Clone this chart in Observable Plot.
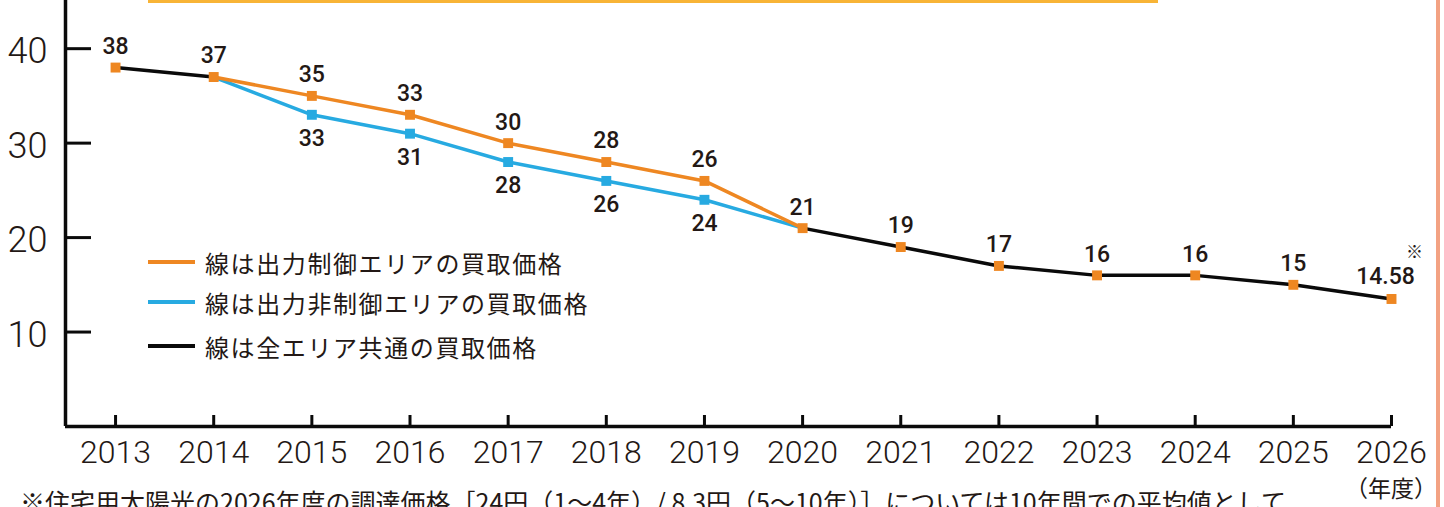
<!DOCTYPE html>
<html>
<head>
<meta charset="utf-8">
<script src="https://cdn.jsdelivr.net/npm/d3@7"></script>
<script src="https://cdn.jsdelivr.net/npm/@observablehq/plot@0.6"></script>
<style>
  html, body { margin: 0; padding: 0; background: #fff; overflow: hidden; }
  #wrap { position: relative; width: 1444px; height: 507px; overflow: hidden; background: #fff; }
  #chart { position: absolute; left: 0; top: 0; }
  .legend { position: absolute; left: 148px; font-family: "Noto Sans CJK JP", sans-serif; font-size: 24px; letter-spacing: 1.6px; color: #231815; }
  .legend .row { position: absolute; left: 0; height: 30px; display: flex; align-items: center; white-space: nowrap; }
  .legend .sw { width: 47px; height: 4px; margin-right: 10px; }
  #footnote { position: absolute; left: 20px; top: 489px; font-family: "Noto Sans CJK JP", sans-serif; font-size: 25px; line-height: 1; white-space: nowrap; color: #231815; }
  #unit { position: absolute; left: 1391px; top: 476px; transform: translateX(-50%); font-family: "Noto Sans CJK JP", sans-serif; font-size: 23px; line-height: 1; white-space: nowrap; color: #231815; }
  #topline { position: absolute; left: 148px; top: 0; width: 1010px; height: 3px; background: #F8B436; }
  #rightline { position: absolute; left: 1436px; top: 0; width: 4px; height: 507px; background: #F3A283; }
</style>
</head>
<body>
<div id="wrap">
  <div id="chart"></div>
  <div id="topline"></div>
  <div id="rightline"></div>
  <div class="legend" id="legend"></div>
  <div id="unit">（年度）</div>
  <div id="footnote">※住宅用太陽光の2026年度の調達価格［24円（1～4年）/ 8.3円（5～10年）］については10年間での平均値として</div>
</div>
<script>
// ---- data ----
const years = [2013, 2014, 2015, 2016, 2017, 2018, 2019, 2020, 2021, 2022, 2023, 2024, 2025, 2026];
const yTicks = [10, 20, 30, 40];

const ctrlYears = [2014, 2015, 2016, 2017, 2018, 2019, 2020];
const ctrlPrices = [37, 35, 33, 30, 28, 26, 21];

const nonCtrlYears = [2014, 2015, 2016, 2017, 2018, 2019, 2020];
const nonCtrlPrices = [37, 33, 31, 28, 26, 24, 21];

const commonYears = [2013, 2014, 2020, 2021, 2022, 2023, 2024, 2025, 2026];
const commonPrices = [38, 37, 21, 19, 17, 16, 16, 15, 13.5];
const commonLabels = ["38", "37", "21", "19", "17", "16", "16", "15", "14.58"];

const legendLabels = ["線は出力制御エリアの買取価格", "線は出力非制御エリアの買取価格", "線は全エリア共通の買取価格"];
const noteMark = "※";

// ---- styles ----
const ORANGE = "#EE8722";
const BLUE = "#27AAE1";
const BLACK = "#0a0a0a";
const TEXT = "#231815";

const ctrl = ctrlYears.map((y, i) => ({year: y, price: ctrlPrices[i], label: String(ctrlPrices[i])}));
const nonCtrl = nonCtrlYears.map((y, i) => ({year: y, price: nonCtrlPrices[i], label: String(nonCtrlPrices[i])}));
const common = commonYears.map((y, i) => ({year: y, price: commonPrices[i], label: commonLabels[i], seg: y <= 2014 ? "a" : "b"}));

const xDomain = [2012.49, 2026];
const yDomain = [0, 45.1];

const ctrlOnly = ctrl.filter(d => !commonYears.includes(d.year));
const nonCtrlOnly = nonCtrl.filter(d => !commonYears.includes(d.year));
const allOrange = [...common, ...ctrlOnly];

const chart = Plot.plot({
  width: 1444,
  height: 507,
  marginLeft: 65,
  marginRight: 53,
  marginTop: 0,
  marginBottom: 81,
  x: {domain: xDomain},
  y: {domain: yDomain},
  style: {fontFamily: "Roboto, 'Noto Sans CJK JP', sans-serif", color: TEXT, background: "transparent", overflow: "visible"},
  marks: [
    // axis lines
    Plot.ruleX([xDomain[0]], {stroke: BLACK, strokeWidth: 3.5}),
    Plot.ruleY([0], {stroke: BLACK, strokeWidth: 3.5}),
    // y ticks (inward) and labels
    Plot.axisY(yTicks, {tickSize: -26, tickFormat: () => "", stroke: BLACK, strokeWidth: 3, label: null}),
    Plot.axisY(yTicks, {tickSize: 0, tickPadding: 18, fontSize: 36, fontWeight: 300, dy: 3, fill: TEXT, label: null}),
    // x ticks (inward) and labels
    Plot.axisX(years, {tickSize: -11, tickFormat: () => "", stroke: BLACK, strokeWidth: 3, label: null}),
    Plot.axisX(years, {tickSize: 0, tickPadding: 14, tickFormat: d => String(d), fontSize: 32, fontWeight: 300, fill: TEXT, label: null}),
    // lines
    Plot.line(nonCtrl, {x: "year", y: "price", stroke: BLUE, strokeWidth: 3.5}),
    Plot.line(ctrl, {x: "year", y: "price", stroke: ORANGE, strokeWidth: 3.5}),
    Plot.line(common, {x: "year", y: "price", z: "seg", stroke: BLACK, strokeWidth: 3.5}),
    // markers
    Plot.dot(nonCtrlOnly, {x: "year", y: "price", symbol: "square", r: 5.6, fill: BLUE}),
    Plot.dot(allOrange, {x: "year", y: "price", symbol: "square", r: 5.6, fill: ORANGE}),
    // value labels
    Plot.text(allOrange.filter(d => d.year !== 2026), {x: "year", y: "price", text: "label", dy: -21, fontSize: 23, fontWeight: 500, fill: TEXT}),
    Plot.text(common.filter(d => d.year === 2026), {x: "year", y: "price", text: "label", dy: -22, dx: -6, fontSize: 23, fontWeight: 500, fill: TEXT}),
    Plot.text(common.filter(d => d.year === 2026), {x: "year", y: "price", text: () => noteMark, dy: -46, dx: 23, fontSize: 17, fill: TEXT}),
    Plot.text(nonCtrlOnly, {x: "year", y: "price", text: "label", dy: 24, fontSize: 23, fontWeight: 500, fill: TEXT})
  ]
});
document.getElementById("chart").appendChild(chart);

// legend
const legendColors = [ORANGE, BLUE, BLACK];
const legendTops = [247, 287, 331];
const legend = document.getElementById("legend");
legendLabels.forEach((t, i) => {
  const row = document.createElement("div");
  row.className = "row";
  row.style.top = legendTops[i] + "px";
  const sw = document.createElement("div");
  sw.className = "sw";
  sw.style.background = legendColors[i];
  const tx = document.createElement("span");
  tx.textContent = t;
  row.appendChild(sw);
  row.appendChild(tx);
  legend.appendChild(row);
});
legend.style.top = "0px";
</script>
</body>
</html>
